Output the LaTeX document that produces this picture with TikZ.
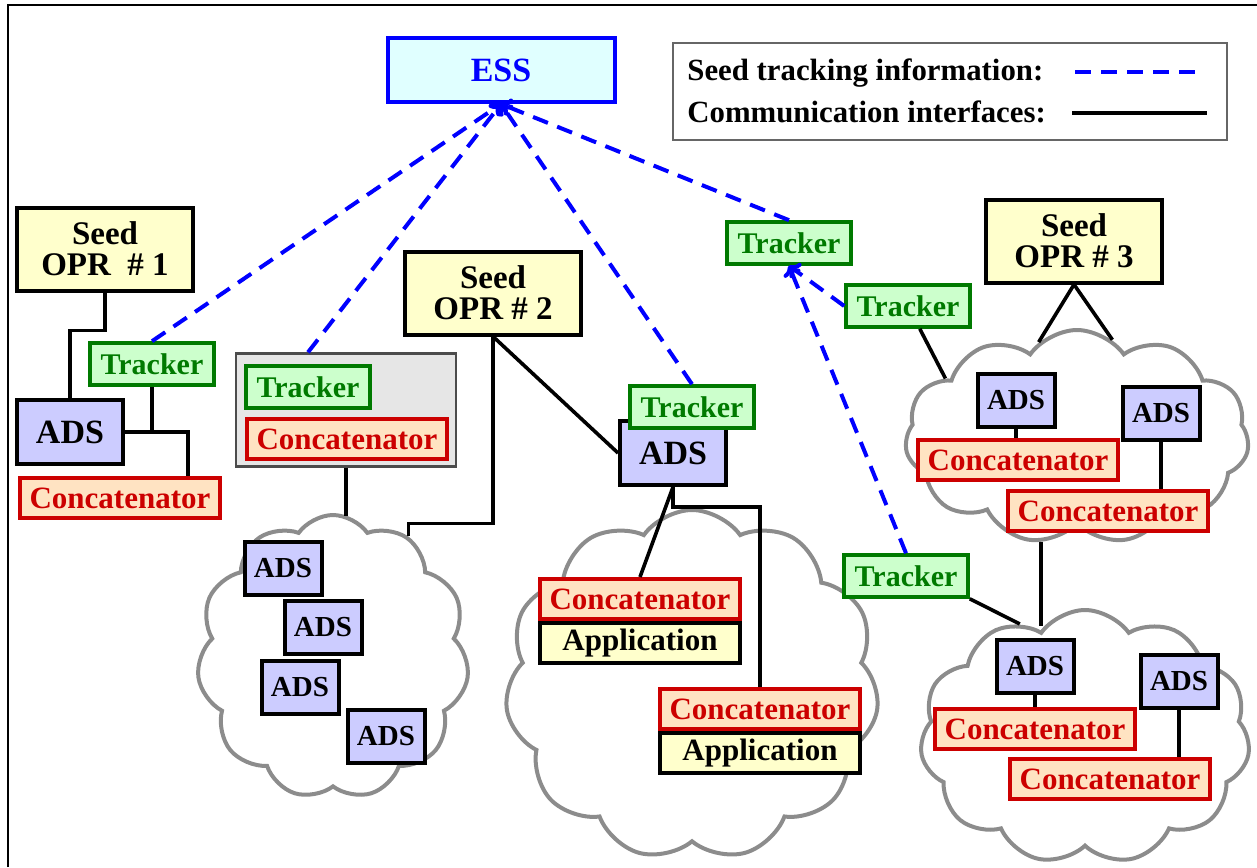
\documentclass[tikz,border=0pt]{standalone}
\usepackage{fontspec}
\setmainfont{Liberation Serif}
\usetikzlibrary{positioning,shapes.symbols,arrows.meta}

\definecolor{seedfill}{HTML}{FFFFCC}
\definecolor{adsfill}{HTML}{CCCCFF}
\definecolor{trkfill}{HTML}{CCFFCC}
\definecolor{trkgreen}{HTML}{007A00}
\definecolor{concfill}{HTML}{FFE3C2}
\definecolor{concred}{HTML}{CC0000}
\definecolor{essfill}{HTML}{E0FFFF}
\definecolor{essblue}{HTML}{0000FF}
\definecolor{groupfill}{HTML}{E6E6E6}
\definecolor{cloudgray}{HTML}{8C8C8C}

\begin{document}
\begin{tikzpicture}[
        x=0.5pt, y=-0.5pt,
        box/.style={draw, line width=2pt, inner sep=0pt, font=\fontsize{15.5}{17}\selectfont\bfseries},
        seedbox/.style={box, fill=seedfill, minimum width=88pt, minimum height=41.5pt, align=center, font=\fontsize{16.5}{15.5}\selectfont\bfseries},
        adsbox/.style={box, fill=adsfill, minimum width=53pt, minimum height=32pt, font=\fontsize{17}{18}\selectfont\bfseries},
        smallads/.style={box, fill=adsfill, minimum width=38.5pt, minimum height=26.5pt, font=\fontsize{14.5}{16}\selectfont\bfseries},
        trackerbox/.style={box, draw=trkgreen, fill=trkfill, text=trkgreen, line width=1.8pt, minimum width=62pt, minimum height=21pt, font=\fontsize{15}{17}\selectfont\bfseries},
        concbox/.style={box, draw=concred, fill=concfill, text=concred, minimum width=100pt, minimum height=20pt},
        appbox/.style={box, fill=seedfill, minimum width=100pt, minimum height=20pt},
        groupbox/.style={draw=black!70, fill=groupfill, line width=1.2pt, minimum width=110pt, minimum height=56.5pt, inner sep=0pt},
        cloudshape/.style={cloud, cloud puffs=11, cloud puff arc=110, cloud ignores aspect, draw=cloudgray, line width=2pt, fill=white, inner sep=0pt},
        comm/.style={line width=1.8pt},
        seedtrack/.style={draw=essblue, line width=2pt, dash pattern=on 8pt off 5pt},
        >={To[length=5pt,width=9pt]}
      ]
      \useasboundingbox (0,0) rectangle (1257,867);
      \draw[line width=1.2pt] (8,867) -- (8,5) -- (1257,5);
      % clouds
      \node[cloudshape, minimum width=136pt, minimum height=142pt] (cloud1) at (333,657) {};
      \node[cloudshape, minimum width=187pt, minimum height=175pt] (cloud2) at (692,685) {};
      \node[cloudshape, minimum width=172pt, minimum height=107pt] (cloud3) at (1077,437) {};
      \node[cloudshape, minimum width=165pt, minimum height=127pt] (cloud4) at (1085,737) {};
      % ESS and legend
      \node[box, draw=essblue, fill=essfill, text=essblue, minimum width=113.5pt, minimum height=32pt, font=\fontsize{17}{18}\selectfont\bfseries] (ess) at (501,70) {ESS};
      \node[draw=black!60, line width=1pt, minimum width=277pt, minimum height=48.5pt] (legend) at (950,91.5) {};
      \node[anchor=west, inner sep=0pt, font=\fontsize{15.4}{17}\selectfont\bfseries] (lgtrack) at (687,73) {Seed tracking information:};
      \node[anchor=west, inner sep=0pt, font=\fontsize{15.4}{17}\selectfont\bfseries] (lgcomm) at (687,112) {Communication interfaces:};
      \coordinate (lgtrackA) at (1075,72);
      \coordinate (lgtrackB) at (1200,72);
      \coordinate (lgcommA) at (1072,113);
      \coordinate (lgcommB) at (1207,113);
      % OPR 1
      \node[seedbox] (seed1) at (105,249) {Seed\\OPR \ \# 1};
      \node[trackerbox] (trk1) at (152,364) {Tracker};
      \node[adsbox] (ads1) at (70,432) {ADS};
      \node[concbox] (conc1) at (120,498) {Concatenator};
      % OPR 2
      \node[groupbox] (group) at (346,410) {};
      \node[trackerbox] (trkg) at (308,387) {Tracker};
      \node[concbox] (concg) at (347,439) {Concatenator};
      \node[smallads] (adsa) at (283,568) {ADS};
      \node[smallads] (adsb) at (323,627) {ADS};
      \node[smallads] (adsc) at (300,687) {ADS};
      \node[smallads] (adsd) at (386,736) {ADS};
      \node[seedbox] (seed2) at (493,293) {Seed\\OPR \# 2};
      \node[adsbox] (ads2) at (673,453) {ADS};
      \node[trackerbox] (trk2) at (692,407) {Tracker};
      \node[concbox] (conc2a) at (640,599) {Concatenator};
      \node[appbox, below=0pt of conc2a] (app2a) {Application};
      \node[concbox] (conc2b) at (760,709) {Concatenator};
      \node[appbox, below=0pt of conc2b] (app2b) {Application};
      % OPR 3
      \node[trackerbox] (trkh) at (789,243) {Tracker};
      \node[trackerbox] (trk3) at (908,306) {Tracker};
      \node[trackerbox] (trk4) at (906,576) {Tracker};
      \node[seedbox] (seed3) at (1074,241) {Seed\\OPR \# 3};
      \node[smallads] (ads3a) at (1016,400) {ADS};
      \node[concbox] (conc3a) at (1018,460) {Concatenator};
      \node[smallads] (ads3b) at (1161,413) {ADS};
      \node[concbox] (conc3b) at (1108,511) {Concatenator};
      \node[smallads] (ads4a) at (1035,666) {ADS};
      \node[concbox] (conc4a) at (1035,729) {Concatenator};
      \node[smallads] (ads4b) at (1179,681) {ADS};
      \node[concbox] (conc4b) at (1110,779) {Concatenator};
      % communication interfaces
      \draw[comm] (lgcommA) -- (lgcommB);
      \draw[comm] (seed1.south) -- ++(0,38) -| (ads1.north);
      \draw[comm] (trk1.south) -- (trk1.south |- ads1.east);
      \draw[comm] (ads1.east) -| ([xshift=34pt]conc1.north);
      \draw[comm] (group.south) -- (group.south |- cloud1.84);
      \draw[comm] (seed2.south) -- ++(0,187) -| (cloud1.58);
      \draw[comm] (seed2.south) -- (ads2.west);
      \draw[comm] (ads2.south) -- (conc2a.north);
      \draw[comm] (ads2.south) -- ++(0,20) -| (conc2b.north);
      \draw[comm] (seed3.south) -- (cloud3.112);
      \draw[comm] (seed3.south) -- (cloud3.70);
      \draw[comm] (trk3) -- (cloud3.156);
      \draw[comm] (ads3a.south) -- (ads3a.south |- conc3a.north);
      \draw[comm] (ads3b.south) -- (ads3b.south |- conc3b.north);
      \draw[comm] (cloud3.251) -- (cloud3.251 |- cloud4.110);
      \draw[comm] (trk4.south east) -- (cloud4.120);
      \draw[comm] (ads4a.south) -- (ads4a.south |- conc4a.north);
      \draw[comm] (ads4b.south) -- (ads4b.south |- conc4b.north);
      % seed tracking information
      \draw[seedtrack] (lgtrackA) -- (lgtrackB);
      \draw[seedtrack, ->] (trk1.north) -- (ess.south);
      \draw[seedtrack, ->] (trkg |- group.north) -- (ess.south);
      \draw[seedtrack, ->] (trk2.north) -- (ess.south);
      \draw[seedtrack, ->] (trkh.north) -- (ess.south);
      \draw[seedtrack, ->] (trk3.west) -- (trkh.south);
      \draw[seedtrack, ->] (trk4.north) -- (trkh.south);
    \end{tikzpicture}
\end{document}
